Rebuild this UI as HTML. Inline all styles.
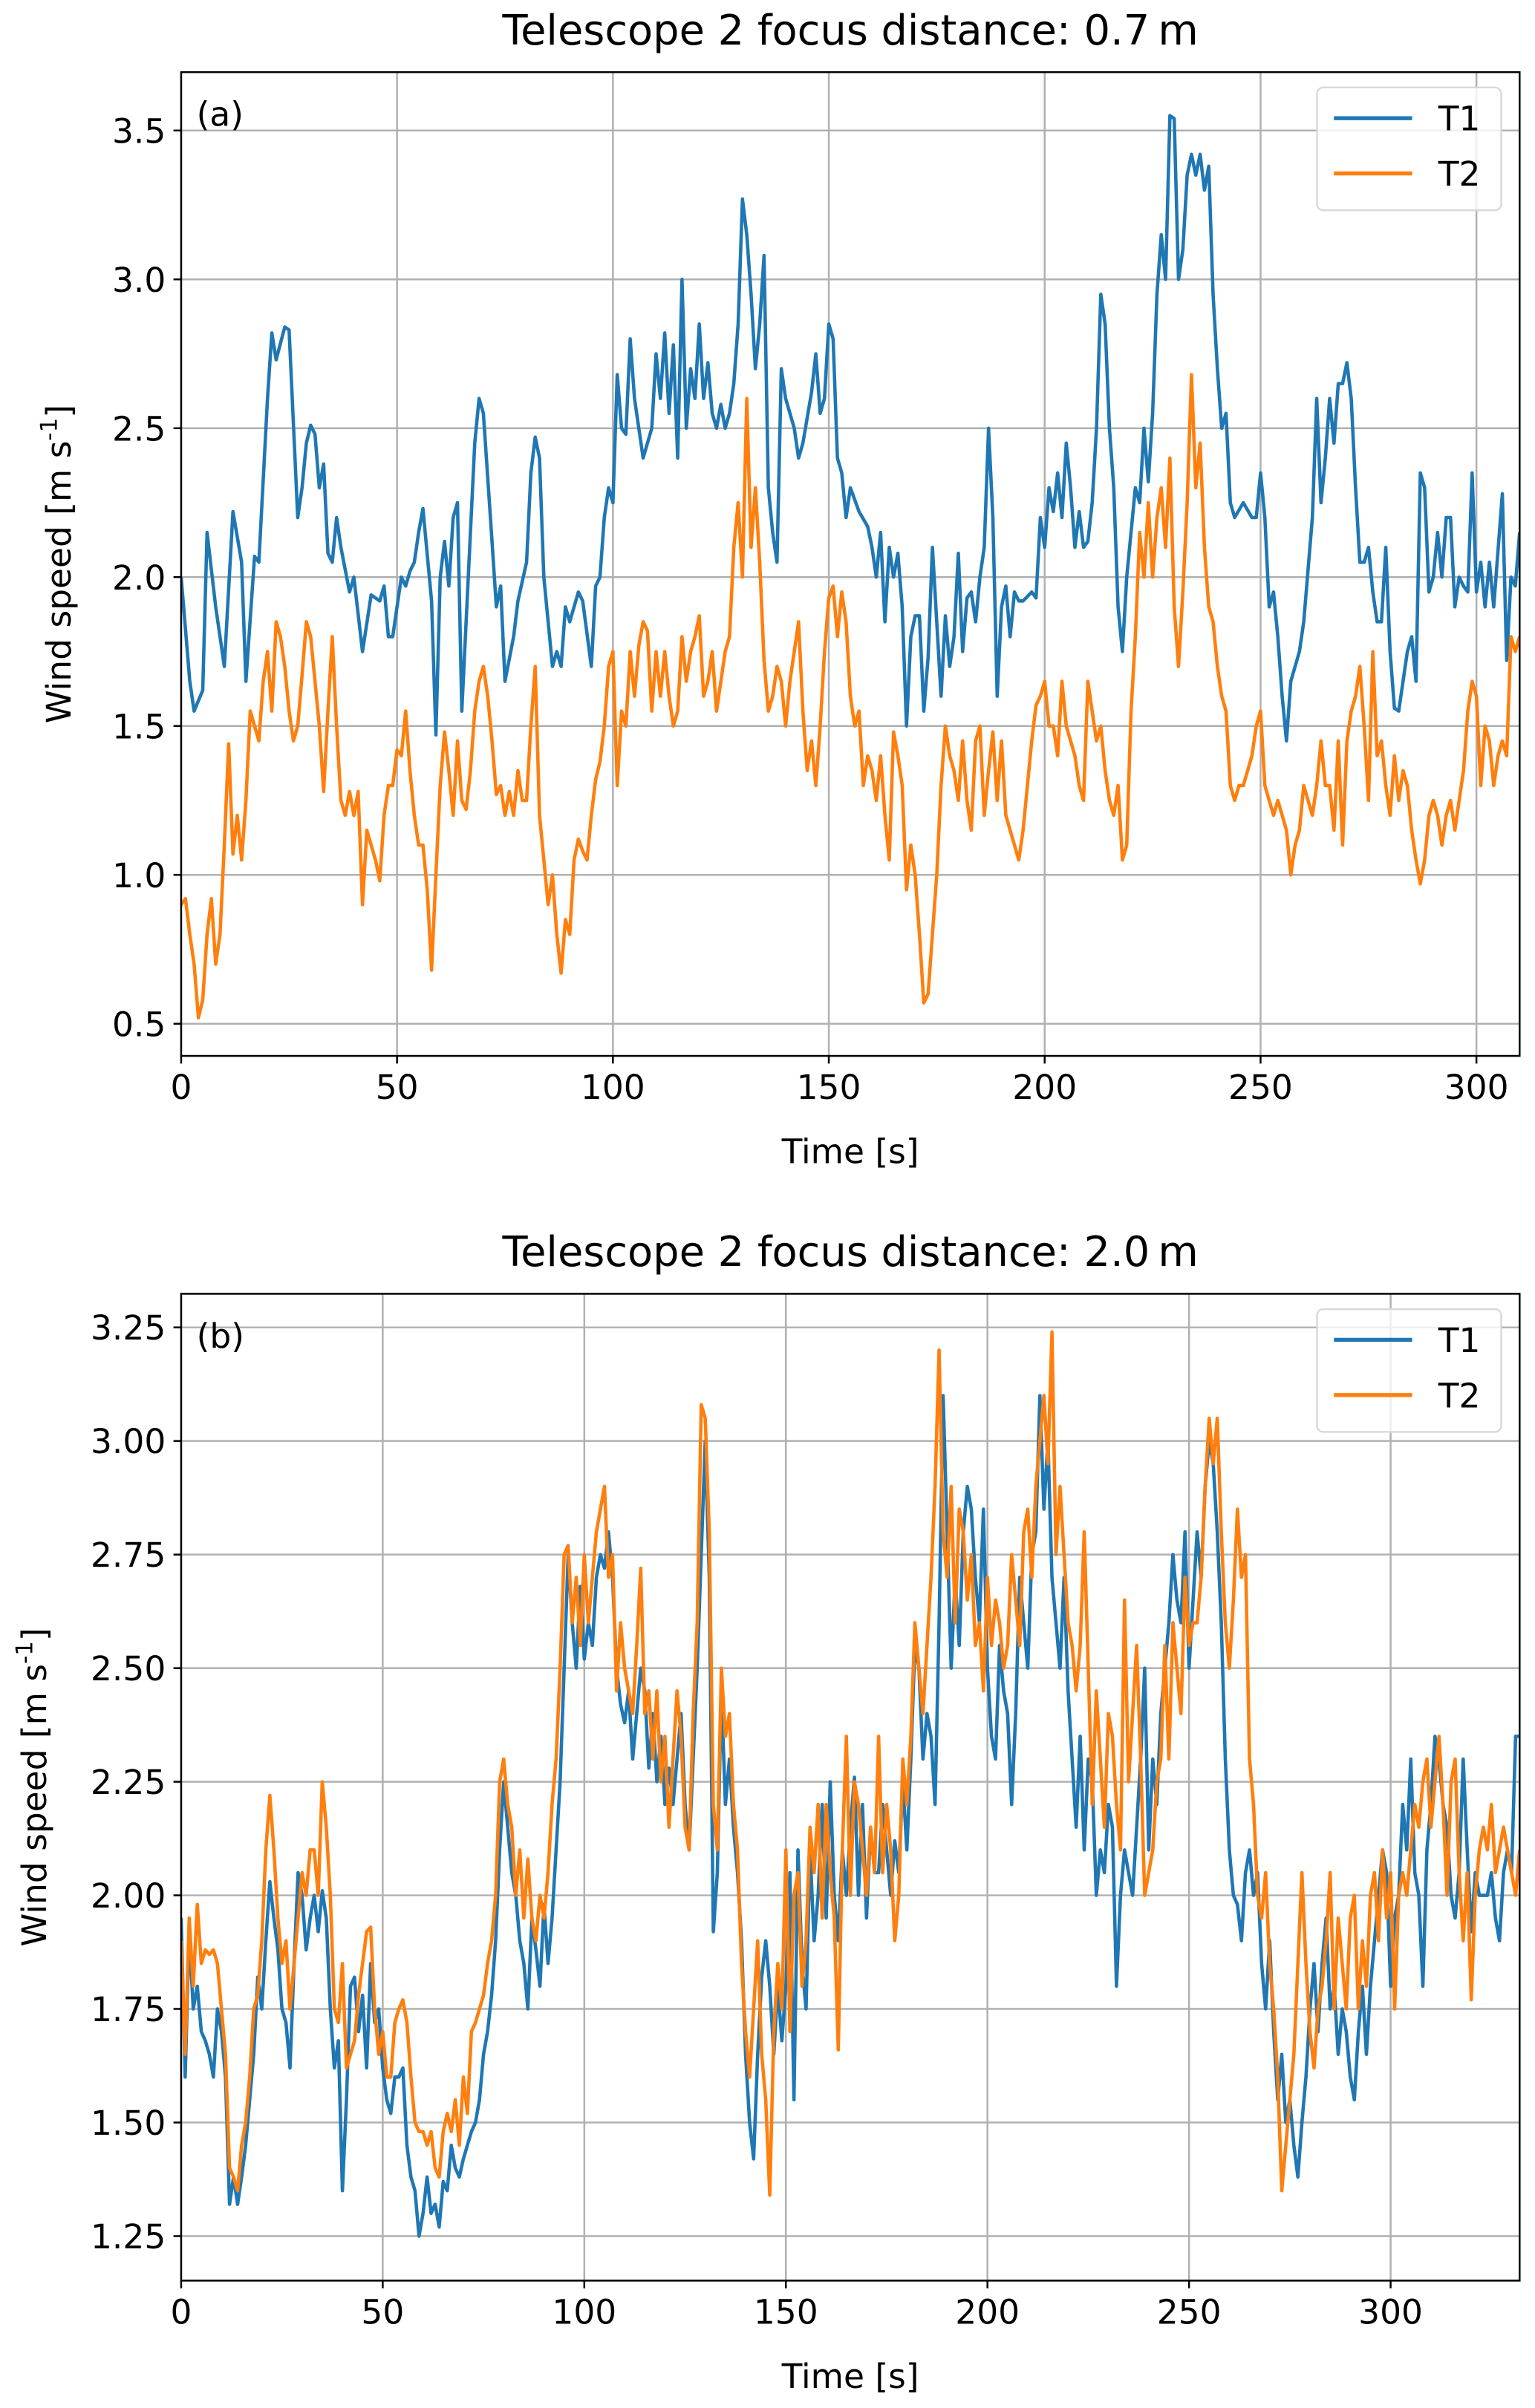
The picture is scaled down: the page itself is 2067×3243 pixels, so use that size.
<!DOCTYPE html>
<html><head><meta charset="utf-8">
<style>html,body{margin:0;padding:0;background:#fff}svg{display:block}text{font-family:"DejaVu Sans","Liberation Sans",sans-serif;fill:#000}</style>
</head><body>
<svg id="fig" width="2067" height="3243" viewBox="0 0 1000 1569" xmlns="http://www.w3.org/2000/svg"></svg>
<script>
// ---------- Panel (a) data ----------
const aT1Time=[0,2,3,5,6,8,10,12,14,15,17,18,20,21,22,24,25,27,28,29,30,31,32,33,34,35,36,37,39,40,42,44,46,47,48,49,51,52,53,54,55,56,58,59,60,61,62,63,64,65,66,68,69,70,72,73,74,75,77,78,80,81,82,83,84,85,86,87,88,89,90,92,93,95,96,97,98,99,100,101,102,103,104,105,107,108,109,110,111,112,113,114,115,116,117,118,119,120,121,122,123,124,125,126,127,128,129,130,131,132,133,134,135,136,137,138,139,140,142,143,144,146,147,148,149,150,151,152,153,154,155,157,159,160,161,162,163,164,165,166,167,168,169,170,171,172,173,174,175,176,177,178,179,180,181,182,183,184,185,186,187,188,189,190,191,192,193,194,195,197,198,199,200,201,202,203,204,205,206,207,208,209,210,211,212,213,214,215,216,217,218,219,220,221,222,223,224,225,226,227,228,229,230,231,232,233,234,235,236,237,238,239,240,241,242,243,244,246,248,249,250,251,252,253,254,255,256,257,259,260,262,263,264,265,266,267,268,269,270,271,272,273,274,275,276,277,278,279,280,281,282,283,284,285,286,287,288,289,290,291,292,293,294,295,296,297,298,299,300,301,302,303,304,306,307,308,309,310];
const aT1Vals=[2.0,1.65,1.55,1.62,2.15,1.9,1.7,2.22,2.05,1.65,2.07,2.05,2.6,2.82,2.73,2.84,2.83,2.2,2.3,2.45,2.51,2.48,2.3,2.38,2.08,2.05,2.2,2.1,1.95,2.0,1.75,1.94,1.92,1.97,1.8,1.8,2.0,1.97,2.02,2.05,2.15,2.23,1.92,1.47,2.0,2.12,1.97,2.2,2.25,1.55,1.85,2.45,2.6,2.55,2.12,1.9,1.97,1.65,1.8,1.92,2.05,2.35,2.47,2.4,2.0,1.85,1.7,1.75,1.7,1.9,1.85,1.95,1.92,1.7,1.97,2.0,2.2,2.3,2.25,2.68,2.5,2.48,2.8,2.6,2.4,2.45,2.5,2.75,2.6,2.82,2.55,2.78,2.4,3.0,2.5,2.7,2.6,2.85,2.6,2.72,2.55,2.5,2.58,2.5,2.55,2.65,2.85,3.27,3.15,2.95,2.7,2.85,3.08,2.3,2.15,2.05,2.7,2.6,2.5,2.4,2.45,2.62,2.75,2.55,2.6,2.85,2.8,2.4,2.35,2.2,2.3,2.22,2.17,2.1,2.0,2.15,1.85,2.1,2.0,2.08,1.9,1.5,1.8,1.87,1.87,1.55,1.73,2.1,1.85,1.6,1.87,1.7,1.8,2.08,1.75,1.93,1.95,1.85,2.0,2.1,2.5,2.2,1.6,1.9,1.97,1.8,1.95,1.92,1.92,1.95,1.93,2.2,2.1,2.3,2.22,2.35,2.2,2.45,2.3,2.1,2.22,2.1,2.12,2.25,2.5,2.95,2.85,2.5,2.3,1.9,1.75,2.0,2.15,2.3,2.25,2.5,2.32,2.55,2.95,3.15,3.0,3.55,3.54,3.0,3.1,3.35,3.42,3.35,3.42,3.3,3.38,2.95,2.7,2.5,2.55,2.25,2.2,2.25,2.2,2.2,2.35,2.2,1.9,1.95,1.8,1.6,1.45,1.65,1.75,1.85,2.2,2.6,2.25,2.4,2.6,2.45,2.65,2.65,2.72,2.6,2.3,2.05,2.05,2.1,1.95,1.85,1.85,2.1,1.75,1.56,1.55,1.65,1.75,1.8,1.65,2.35,2.3,1.95,2.0,2.15,2.0,2.2,2.2,1.9,2.0,1.97,1.95,2.35,1.95,2.05,1.9,2.05,1.9,2.28,1.72,2.0,1.97,2.15];
const aT2Start=0;
const aT2Vals=[0.9,0.92,0.8,0.7,0.52,0.58,0.8,0.92,0.7,0.8,1.1,1.44,1.07,1.2,1.05,1.25,1.55,1.5,1.45,1.65,1.75,1.55,1.85,1.8,1.7,1.55,1.45,1.5,1.67,1.85,1.8,1.65,1.5,1.28,1.55,1.8,1.5,1.25,1.2,1.28,1.2,1.28,0.9,1.15,1.1,1.05,0.98,1.2,1.3,1.3,1.42,1.4,1.55,1.35,1.2,1.1,1.1,0.95,0.68,1.0,1.3,1.48,1.35,1.2,1.45,1.25,1.22,1.35,1.55,1.65,1.7,1.6,1.45,1.27,1.3,1.2,1.28,1.2,1.35,1.25,1.25,1.5,1.7,1.2,1.05,0.9,1.0,0.8,0.67,0.85,0.8,1.05,1.12,1.08,1.05,1.2,1.32,1.38,1.5,1.7,1.75,1.3,1.55,1.5,1.75,1.6,1.77,1.85,1.82,1.55,1.75,1.6,1.75,1.6,1.5,1.55,1.8,1.65,1.75,1.8,1.87,1.6,1.65,1.75,1.55,1.65,1.75,1.8,2.1,2.25,2.0,2.6,2.1,2.3,2.05,1.72,1.55,1.6,1.7,1.65,1.5,1.65,1.75,1.85,1.55,1.35,1.45,1.3,1.5,1.75,1.93,1.97,1.8,1.95,1.85,1.6,1.5,1.55,1.3,1.4,1.35,1.25,1.4,1.2,1.05,1.48,1.4,1.3,0.95,1.1,1.0,0.8,0.57,0.6,0.8,1.0,1.3,1.5,1.4,1.35,1.25,1.45,1.25,1.15,1.45,1.5,1.2,1.35,1.48,1.25,1.45,1.2,1.15,1.1,1.05,1.15,1.3,1.45,1.57,1.6,1.65,1.5,1.5,1.4,1.65,1.5,1.45,1.4,1.3,1.25,1.65,1.55,1.45,1.5,1.35,1.25,1.2,1.3,1.05,1.1,1.55,1.8,2.15,2.0,2.25,2.0,2.2,2.3,2.1,2.4,1.9,1.7,1.95,2.25,2.68,2.3,2.45,2.1,1.9,1.85,1.7,1.6,1.55,1.3,1.25,1.3,1.3,1.35,1.4,1.5,1.55,1.3,1.25,1.2,1.25,1.2,1.15,1.0,1.1,1.15,1.3,1.25,1.2,1.3,1.45,1.3,1.3,1.15,1.45,1.1,1.45,1.55,1.6,1.7,1.5,1.25,1.75,1.4,1.45,1.3,1.2,1.4,1.25,1.35,1.3,1.15,1.05,0.97,1.05,1.2,1.25,1.2,1.1,1.2,1.25,1.15,1.25,1.35,1.55,1.65,1.6,1.3,1.5,1.45,1.3,1.4,1.45,1.4,1.8,1.75,1.8];
const aYTicks=[0.5,1.0,1.5,2.0,2.5,3.0,3.5];
const aXTicks=[0,50,100,150,200,250,300];
// ---------- Panel (b) data ----------
const bT1Vals=[1.95,1.6,1.92,1.75,1.8,1.7,1.68,1.65,1.6,1.75,1.7,1.6,1.32,1.38,1.32,1.38,1.45,1.55,1.65,1.82,1.75,1.9,2.03,1.95,1.88,1.75,1.72,1.62,1.85,2.05,2.0,1.88,1.95,2.0,1.92,2.01,1.95,1.75,1.62,1.68,1.35,1.55,1.8,1.82,1.7,1.78,1.62,1.85,1.72,1.75,1.62,1.55,1.52,1.6,1.6,1.62,1.45,1.38,1.35,1.25,1.3,1.38,1.3,1.32,1.27,1.37,1.35,1.45,1.4,1.38,1.42,1.45,1.48,1.5,1.55,1.65,1.7,1.78,1.9,2.1,2.25,2.15,2.05,2.0,1.9,1.85,1.75,1.95,1.88,1.8,1.98,1.85,1.95,2.1,2.25,2.5,2.75,2.6,2.5,2.68,2.52,2.6,2.55,2.7,2.75,2.72,2.8,2.7,2.5,2.42,2.38,2.45,2.3,2.4,2.5,2.45,2.28,2.4,2.25,2.35,2.2,2.28,2.2,2.3,2.4,2.2,2.1,2.3,2.5,2.75,3.0,2.7,1.92,2.05,2.45,2.2,2.3,2.15,2.05,1.9,1.65,1.5,1.42,1.65,1.82,1.9,1.8,1.65,1.8,1.68,1.8,2.05,1.55,2.1,1.85,1.75,2.1,1.9,2.0,2.2,1.95,2.25,2.0,1.9,2.1,2.0,2.15,2.26,2.0,2.2,1.95,2.15,2.05,2.05,2.2,2.1,2.0,2.12,2.05,2.25,2.1,2.3,2.55,2.5,2.3,2.4,2.35,2.2,2.6,3.1,2.8,2.5,2.7,2.55,2.8,2.9,2.85,2.7,2.6,2.85,2.5,2.35,2.3,2.55,2.45,2.4,2.2,2.4,2.7,2.6,2.5,2.75,2.8,3.1,2.85,3.0,2.7,2.6,2.5,2.7,2.45,2.3,2.15,2.35,2.1,2.3,2.25,2.0,2.1,2.05,2.2,2.15,1.8,2.0,2.1,2.05,2.0,2.15,2.3,2.5,2.1,2.3,2.2,2.4,2.5,2.6,2.75,2.65,2.6,2.8,2.5,2.65,2.8,2.7,2.9,3.0,2.95,2.8,2.6,2.3,2.1,2.0,1.98,1.9,2.05,2.1,2.0,2.05,1.85,1.75,1.9,1.7,1.55,1.65,1.5,1.55,1.45,1.38,1.5,1.6,1.75,1.85,1.7,1.85,1.95,1.75,1.8,1.65,1.75,1.7,1.6,1.55,1.7,1.8,1.65,1.8,1.9,2.0,2.1,2.05,1.8,1.95,2.0,2.2,2.1,2.3,2.05,2.0,1.8,2.1,2.2,2.35,2.3,2.2,2.15,2.0,1.95,2.05,2.3,2.1,1.92,2.05,2.0,2.0,2.0,2.05,1.95,1.9,2.05,2.1,2.05,2.35,2.35];
const bT2Vals=[1.9,1.65,1.95,1.8,1.98,1.85,1.88,1.87,1.88,1.85,1.75,1.65,1.4,1.38,1.35,1.45,1.5,1.6,1.75,1.78,1.9,2.1,2.22,2.1,1.95,1.85,1.9,1.75,1.85,1.95,2.05,2.0,2.1,2.1,2.0,2.25,2.15,2.0,1.75,1.72,1.85,1.62,1.65,1.68,1.78,1.85,1.92,1.93,1.75,1.65,1.7,1.6,1.6,1.72,1.75,1.77,1.72,1.6,1.5,1.48,1.48,1.45,1.48,1.4,1.38,1.48,1.52,1.48,1.55,1.45,1.6,1.52,1.7,1.72,1.75,1.78,1.85,1.9,2.0,2.25,2.3,2.2,2.15,2.0,2.1,1.95,2.08,1.95,1.9,2.0,1.95,2.05,2.2,2.3,2.5,2.75,2.77,2.6,2.7,2.55,2.75,2.6,2.7,2.8,2.85,2.9,2.7,2.75,2.45,2.6,2.5,2.45,2.4,2.55,2.72,2.4,2.45,2.3,2.45,2.25,2.35,2.15,2.3,2.45,2.35,2.15,2.1,2.4,2.6,3.08,3.05,2.8,2.2,2.1,2.5,2.35,2.4,2.2,2.1,1.85,1.7,1.6,1.75,1.9,1.65,1.55,1.34,1.7,1.85,1.75,2.1,1.7,2.0,2.05,1.8,1.9,2.15,2.05,2.2,1.95,2.2,2.05,1.95,1.66,2.1,2.35,2.0,2.25,2.2,2.1,2.0,2.15,2.05,2.35,2.05,2.2,2.1,1.9,2.0,2.3,2.2,2.35,2.6,2.5,2.4,2.55,2.7,2.9,3.2,2.8,2.7,2.9,2.6,2.85,2.8,2.65,2.75,2.55,2.6,2.45,2.7,2.55,2.65,2.6,2.5,2.55,2.75,2.65,2.55,2.8,2.85,2.7,2.9,3.0,3.1,2.95,3.24,2.75,2.9,2.75,2.6,2.55,2.45,2.55,2.8,2.5,2.2,2.45,2.3,2.15,2.4,2.35,2.2,2.1,2.65,2.25,2.4,2.55,2.3,2.0,2.05,2.1,2.25,2.3,2.55,2.3,2.6,2.5,2.4,2.7,2.55,2.6,2.6,2.7,2.9,3.05,2.95,3.05,2.8,2.6,2.5,2.65,2.85,2.7,2.75,2.3,2.2,2.0,1.95,2.05,1.85,1.75,1.6,1.35,1.45,1.55,1.65,1.85,2.05,1.85,1.7,1.62,1.75,1.8,1.9,2.05,1.75,1.95,1.85,1.75,1.95,2.0,1.75,1.9,1.8,2.0,2.05,1.9,2.1,1.95,2.05,1.75,2.0,2.05,2.0,2.1,2.2,2.15,2.25,2.3,2.15,2.25,2.35,2.2,2.0,2.25,2.3,2.05,1.9,2.05,1.77,2.0,2.1,2.15,2.1,2.2,2.05,2.1,2.15,2.1,2.05,2.0,2.1];
const bYTicks=[1.25,1.5,1.75,2.0,2.25,2.5,2.75,3.0,3.25];
const bXTicks=[0,50,100,150,200,250,300];

const NS='http://www.w3.org/2000/svg';
const svg=document.getElementById('fig');
function mk(tag,attrs,parent,txt){const e=document.createElementNS(NS,tag);for(const k in attrs)e.setAttribute(k,attrs[k]);if(txt!==undefined)e.textContent=txt;(parent||svg).appendChild(e);return e;}

function panel(cfg){
  const g=mk('g',{});
  
  
  const L=118,R=990,T=cfg.top,B=cfg.bottom;
  const sx=v=>L+(v-cfg.xmin)/(cfg.xmax-cfg.xmin)*(R-L);
  const sy=v=>B-(v-cfg.ymin)/(cfg.ymax-cfg.ymin)*(B-T);
  cfg.xticks.forEach(t=>{const l=mk('line',{x1:sx(t),x2:sx(t),y1:T,y2:B,stroke:'#b0b0b0','stroke-width':1.2},g);
    
    });
  cfg.yticks.forEach(t=>{const l=mk('line',{x1:L,x2:R,y1:sy(t),y2:sy(t),stroke:'#b0b0b0','stroke-width':1.2},g);
    
    });
  const clipId='clip'+cfg.label;
  const cp=mk('clipPath',{id:clipId},g);mk('rect',{x:L,y:T,width:R-L,height:B-T},cp);
  cfg.series.forEach(s=>{
    const pts=s.vals.map((v,i)=>sx(s.times?s.times[i]:s.start+i)+','+sy(v)).join(' ');
    const p=mk('polyline',{points:pts,fill:'none',stroke:s.color,'stroke-width':2.2,'stroke-linejoin':'round','clip-path':'url(#'+clipId+')'},g);
    
    
  });
  const f=mk('rect',{x:L,y:T,width:R-L,height:B-T,fill:'none',stroke:'#000','stroke-width':1.2},g);
  
  
  cfg.xticks.forEach(t=>{mk('line',{x1:sx(t),x2:sx(t),y1:B,y2:B+5,stroke:'#000','stroke-width':1.2},g);
    const tx=mk('text',{x:sx(t),y:B+28,'text-anchor':'middle','font-size':22},g,String(t));
    
    });
  cfg.yticks.forEach(t=>{mk('line',{x1:L-5,x2:L,y1:sy(t),y2:sy(t),stroke:'#000','stroke-width':1.2},g);
    const tx=mk('text',{x:L-10,y:sy(t)+8,'text-anchor':'end','font-size':22},g,t.toFixed(cfg.dec));
    
    });
  const ti=mk('text',{x:(L+R)/2,y:T-18,'text-anchor':'middle','font-size':27},g,cfg.title);
  
  
  const xl=mk('text',{x:(L+R)/2,y:B+70,'text-anchor':'middle','font-size':22},g,'Time [s]');
  
  
  const cy=(T+B)/2;
  const yl=mk('text',{x:cfg.ylabX,y:cy,'text-anchor':'middle','font-size':22,transform:'rotate(-90 '+cfg.ylabX+' '+cy+')'},g);
  
  
  mk('tspan',{},yl,'Wind speed [m s');
  mk('tspan',{dy:-9,'font-size':15},yl,'-1');
  mk('tspan',{dy:9},yl,']');
  const pl=mk('text',{x:128,y:T+35,'font-size':22},g,'('+cfg.label+')');
  
  
  const lg=mk('g',{},g);
  
  
  mk('rect',{x:858,y:T+10,width:120,height:80,rx:4,fill:'#fff','fill-opacity':0.8,stroke:'#d9d9d9','stroke-width':1.2},lg);
  cfg.series.forEach((s,i)=>{
    const yy=T+30+i*36;
    mk('line',{x1:869,x2:920,y1:yy,y2:yy,stroke:s.color,'stroke-width':2.6},lg);
    const lt=mk('text',{x:937,y:yy+8,'font-size':22},lg,s.key);
    
    
  });
}
panel({name:'panel-a',label:'a',title:'Telescope 2 focus distance: 0.7\u2009m',top:47,bottom:688,xmin:0,xmax:310,ymin:0.392,ymax:3.696,dec:1,ylabX:46,
  xticks:aXTicks,yticks:aYTicks,
  series:[{key:'T1',color:'#1f77b4',times:aT1Time,vals:aT1Vals},{key:'T2',color:'#ff7f0e',start:aT2Start,vals:aT2Vals}]});
panel({name:'panel-b',label:'b',title:'Telescope 2 focus distance: 2.0\u2009m',top:843,bottom:1486,xmin:0,xmax:332,ymin:1.152,ymax:3.324,dec:2,ylabX:30,
  xticks:bXTicks,yticks:bYTicks,
  series:[{key:'T1',color:'#1f77b4',start:0,vals:bT1Vals},{key:'T2',color:'#ff7f0e',start:0,vals:bT2Vals}]});
</script>
</body></html>
